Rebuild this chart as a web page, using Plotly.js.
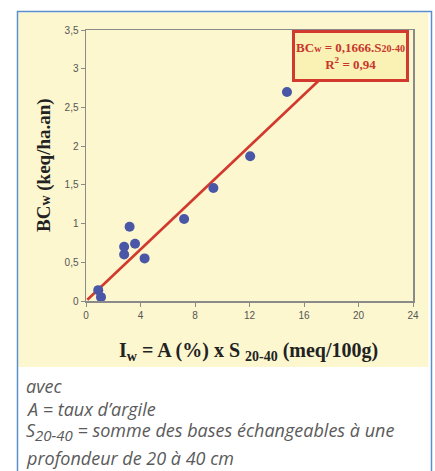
<!DOCTYPE html>
<html><head><meta charset="utf-8">
<script src="https://cdn.plot.ly/plotly-3.0.1.min.js"></script>
<style>html,body{margin:0;padding:0;background:#fff}#c{width:435px;height:471px}</style>
</head><body><div id="c"></div>
<script>
// Data
const iw = [0.9, 1.1, 2.8, 2.8, 3.2, 3.6, 4.3, 7.2, 9.35, 12.05, 14.75];
const bcw = [0.14, 0.05, 0.60, 0.70, 0.96, 0.74, 0.55, 1.06, 1.46, 1.87, 2.70];
const slope = 0.1666;
const fitRange = [0.1, 18];
const xTicks = [0, 4, 8, 12, 16, 20, 24];
const yTicks = [0, 0.5, 1, 1.5, 2, 2.5, 3, 3.5];
const captionLines = [
  "avec",
  "A = taux d\u2019argile",
  "S<sub><span style=\"font-size:15px\">20-40</span></sub> = somme des bases échangeables à une",
  "profondeur de 20 à 40 cm"
];

const W = 435, H = 471, L = 86, R = 22, T = 30, B = 170;
const pw = W - L - R, ph = H - T - B;
const fx = px => (px - L) / pw;
const fy = py => (H - B - py) / ph;

const YEL = '#fcf7cf';
const traces = [
  {x: fitRange, y: fitRange.map(v => v * slope), mode: 'lines', type: 'scatter',
   line: {color: '#d2392e', width: 2.6}, hoverinfo: 'skip', showlegend: false},
  {x: iw, y: bcw, mode: 'markers', type: 'scatter',
   marker: {color: '#4a57a6', size: 10}, showlegend: false}
];

const serif = '"Liberation Serif", "Times New Roman", serif';
const annotations = [
  {xref: 'paper', yref: 'paper', x: fx(350.5), y: fy(56), xanchor: 'center', yanchor: 'middle',
   text: '<b>BC<span style="font-size:10px">w</span> = 0,1666.S<span style="font-size:10px">20-40</span></b><br><b>R<sup>2</sup> = 0,94</b>',
   showarrow: false, font: {family: serif, size: 13, color: '#c8352c'},
   bgcolor: '#faf2b4', bordercolor: '#d23a30', borderwidth: 3, borderpad: 1, width: 109, height: 44},
  {xref: 'paper', yref: 'paper', x: fx(248), y: fy(352), xanchor: 'center', yanchor: 'middle',
   text: '<b>I<sub>w</sub> = A (%) x S <sub>20-40</sub> (meq/100g)</b>', showarrow: false,
   font: {family: serif, size: 20, color: '#222'}},
  {xref: 'paper', yref: 'paper', x: fx(44), y: fy(165), xanchor: 'center', yanchor: 'middle',
   text: '<b>BC<span style="font-size:14px">w</span> (keq/ha.an)</b>', textangle: -90, showarrow: false,
   font: {family: serif, size: 19, color: '#222'}}
];
const capY = [386, 409, 432, 458];
captionLines.forEach((t, i) => annotations.push({
  xref: 'paper', yref: 'paper', x: fx(24), y: fy(capY[i]), xanchor: 'left', yanchor: 'middle',
  text: '<i>' + t + '</i>', showarrow: false,
  font: {family: '"Open Sans", sans-serif', size: 18, color: '#5a5a5a'}
}));

const layout = {
  width: W, height: H, margin: {l: L, r: R, t: T, b: B},
  paper_bgcolor: '#ffffff', plot_bgcolor: YEL, separators: ', ',
  font: {family: '"Liberation Sans", Arial, sans-serif', size: 10, color: '#555'},
  xaxis: {range: [0, 24], tickvals: xTicks, showgrid: false, zeroline: false,
          showline: true, mirror: true, linecolor: '#8a8a8a', linewidth: 1.5,
          ticks: 'outside', ticklen: 4, tickcolor: '#8a8a8a', tickfont: {size: 10, color: '#555'}},
  yaxis: {range: [0, 3.5], tickvals: yTicks, showgrid: false, zeroline: false,
          showline: true, mirror: true, linecolor: '#8a8a8a', linewidth: 1.5,
          ticks: 'outside', ticklen: 4, tickcolor: '#8a8a8a', tickfont: {size: 10, color: '#555'}},
  shapes: [
    {type: 'rect', xref: 'paper', yref: 'paper', layer: 'below',
     x0: fx(18.5), x1: fx(428.5), y0: fy(367), y1: fy(12.5), fillcolor: YEL, line: {width: 0}},
    {type: 'rect', xref: 'paper', yref: 'paper', layer: 'below',
     x0: fx(17.5), x1: fx(431.5), y0: fy(480), y1: fy(11.5), fillcolor: 'rgba(0,0,0,0)',
     line: {color: '#5b8fcb', width: 1.5}}
  ],
  annotations: annotations
};
Plotly.newPlot('c', traces, layout, {staticPlot: true, displayModeBar: false});
</script></body></html>
